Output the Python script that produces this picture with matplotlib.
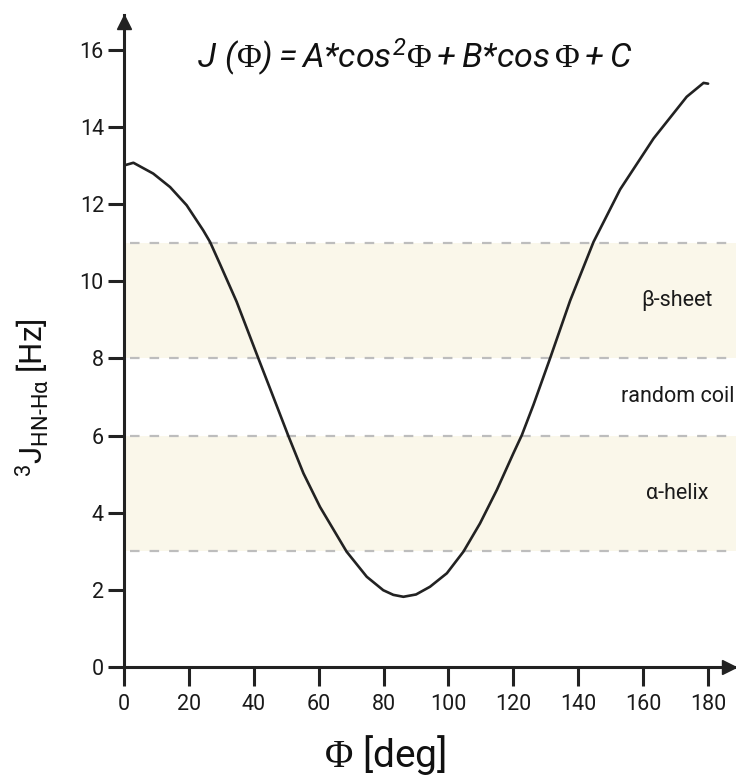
import matplotlib.pyplot as plt
import numpy as np

plt.rcParams['font.family'] = ['Roboto', 'DejaVu Sans']
plt.rcParams['mathtext.fontset'] = 'custom'
plt.rcParams['mathtext.rm'] = 'Roboto:italic'
plt.rcParams['mathtext.it'] = 'Roboto:italic'
plt.rcParams['mathtext.sf'] = 'Liberation Serif'

# Karplus curve, J coupling vs dihedral angle
phi = [0, 2.9, 9.0, 14.2, 19.3, 24.4, 26.5, 29.6, 34.7, 41.4, 45.0, 50.6,
       55.3, 60.4, 68.6, 74.8, 79.9, 83.0, 86.1, 90.0, 94.3, 99.5, 104.6,
       109.7, 114.9, 120.0, 122.6, 126.2, 131.3, 137.5, 144.7, 152.9, 163.2,
       173.4, 178.6, 180]
j_hz = [13.0, 13.07, 12.79, 12.44, 11.97, 11.32, 11.02, 10.44, 9.47, 8.0,
        7.22, 6.0, 5.02, 4.15, 2.99, 2.34, 1.99, 1.87, 1.82, 1.88, 2.08, 2.43,
        2.99, 3.72, 4.59, 5.54, 6.01, 6.8, 8.0, 9.5, 11.02, 12.38, 13.7,
        14.78, 15.14, 15.12]

# secondary structure ranges
bands = [(3, 6), (8, 11)]
band_lines = [3, 6, 8, 11]
regions = ['α-helix', 'random coil', 'β-sheet']
region_y = [4.5, 7.0, 9.5]

xticks = np.arange(0, 181, 20)
yticks = np.arange(0, 17, 2)

dark = '#222222'

fig = plt.figure(figsize=(7.36, 7.76), dpi=100)
ax = fig.add_axes([124/736, 1 - 667/776, 612/736, 652/776])

for lo, hi in bands:
    ax.axhspan(lo, hi, color='#faf7ea', lw=0, zorder=0)
for y in band_lines:
    ax.axhline(y, xmin=0.01, color='#bdbdbd', lw=1.6, dashes=(4.3, 4.5), zorder=1)

ax.plot(phi, j_hz, color=dark, lw=1.9, zorder=3, solid_capstyle='round',
        solid_joinstyle='round')

for name, y in zip(regions, region_y):
    ax.text(170.5, y, name, ha='center', va='center', fontsize=15.5, color='#1a1a1a')

ax.set_xlim(0, 188.6)
ax.set_ylim(0, 16.9)
ax.set_xticks(xticks)
ax.set_yticks(yticks)

for s in ['top', 'right']:
    ax.spines[s].set_visible(False)
for s in ['left', 'bottom']:
    ax.spines[s].set_linewidth(2.2)
    ax.spines[s].set_color(dark)

ax.tick_params(axis='y', length=11.5, width=2.2, color=dark, pad=3,
               labelsize=15.5, labelcolor='#1a1a1a')
ax.tick_params(axis='x', length=13.5, width=2.2, color=dark, pad=6,
               labelsize=15.5, labelcolor='#1a1a1a')

# arrow heads on the axes
ax.plot(0.989, 0, marker='>', ms=10, color=dark, transform=ax.transAxes, clip_on=False)
ax.plot(0, 0.99, marker='^', ms=10, color=dark, transform=ax.transAxes, clip_on=False)

fig.text(415/736, 1 - 57/776,
         r'$J\ (\mathsf{\Phi}) = A{*}cos^{2}\mathsf{\Phi} + B{*}cos\,\mathsf{\Phi} + C$',
         ha='center', va='center', fontsize=24.5, color='#111111')

fig.text(32/736, 1 - 398/776,
         r'$^{\mathregular{3}}\mathregular{J}_{\mathregular{HN\text{-}H\alpha}}$ [Hz]',
         rotation=90, ha='center', va='center', fontsize=22.5, color='#111111')

fig.text(385/736, 1 - 755/776, r'$\mathsf{\Phi}$ [deg]',
         ha='center', va='center', fontsize=28, color='#111111')

plt.savefig('out.png', dpi=100)
